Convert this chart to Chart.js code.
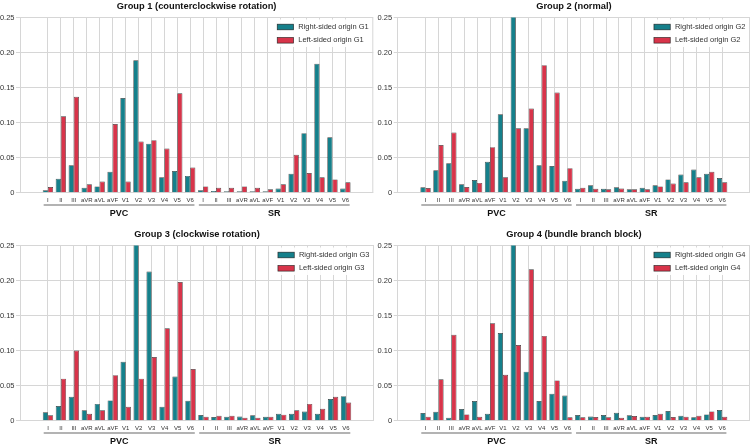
<!DOCTYPE html>
<html>
<head>
<meta charset="utf-8">
<title>Lead contributions by group</title>
<script src="https://cdn.jsdelivr.net/npm/chart.js@4.4.1/dist/chart.umd.min.js"></script>
<style>
  html, body { margin: 0; padding: 0; background: #fff; }
  #wrap { position: relative; width: 751px; height: 447px; overflow: hidden; }
  canvas { position: absolute; }
</style>
</head>
<body>
<div id="wrap">
  <canvas id="g1" width="375" height="224" style="left:0;top:0"></canvas>
  <canvas id="g2" width="376" height="224" style="left:375px;top:0"></canvas>
  <canvas id="g3" width="375" height="224" style="left:0;top:228px"></canvas>
  <canvas id="g4" width="376" height="224" style="left:375px;top:228px"></canvas>
</div>
<script>
// leads, repeated for the PVC beat and the sinus rhythm (SR) beat
const leads = ['I', 'II', 'III', 'aVR', 'aVL', 'aVF', 'V1', 'V2', 'V3', 'V4', 'V5', 'V6'];
const groupNames = ['PVC', 'SR'];
const categories = groupNames.flatMap(() => leads);
const yTicks = [0, 0.05, 0.10, 0.15, 0.20, 0.25];

const titles = [
  'Group 1 (counterclockwise rotation)',
  'Group 2 (normal)',
  'Group 3 (clockwise rotation)',
  'Group 4 (bundle branch block)'
];

// values (PVC leads first, then SR leads)
const g1Right = [0.0035, 0.020, 0.039, 0.007, 0.009, 0.030, 0.135, 0.189, 0.070, 0.022, 0.031, 0.024,
                 0.0035, 0.0025, 0.002, 0.002, 0.002, 0.002, 0.006, 0.027, 0.085, 0.184, 0.079, 0.006];
const g1Left  = [0.008, 0.109, 0.137, 0.012, 0.016, 0.098, 0.016, 0.073, 0.075, 0.063, 0.142, 0.036,
                 0.009, 0.007, 0.007, 0.009, 0.007, 0.005, 0.012, 0.054, 0.028, 0.022, 0.019, 0.015];

const g2Right = [0.0076, 0.032, 0.042, 0.012, 0.018, 0.044, 0.112, 0.300, 0.092, 0.039, 0.038, 0.017,
                 0.0057, 0.0105, 0.0057, 0.0076, 0.005, 0.007, 0.0105, 0.019, 0.026, 0.033, 0.027, 0.021];
const g2Left  = [0.0067, 0.068, 0.086, 0.008, 0.014, 0.065, 0.022, 0.092, 0.120, 0.182, 0.143, 0.035,
                 0.007, 0.0057, 0.005, 0.006, 0.005, 0.005, 0.009, 0.013, 0.015, 0.022, 0.030, 0.015];

const g3Right = [0.012, 0.021, 0.034, 0.015, 0.024, 0.029, 0.084, 0.300, 0.213, 0.020, 0.063, 0.0285,
                 0.008, 0.0052, 0.0057, 0.006, 0.0076, 0.0057, 0.010, 0.010, 0.013, 0.010, 0.031, 0.035];
const g3Left  = [0.0076, 0.060, 0.100, 0.010, 0.015, 0.065, 0.020, 0.060, 0.091, 0.132, 0.198, 0.0737,
                 0.0057, 0.0071, 0.0071, 0.0043, 0.0043, 0.0057, 0.0086, 0.015, 0.024, 0.017, 0.034, 0.026];

const g4Right = [0.011, 0.0128, 0.0043, 0.0166, 0.028, 0.010, 0.125, 0.300, 0.070, 0.028, 0.0385, 0.036,
                 0.008, 0.006, 0.008, 0.0114, 0.0076, 0.0057, 0.008, 0.0138, 0.0071, 0.0048, 0.009, 0.0152];
const g4Left  = [0.0057, 0.059, 0.1226, 0.009, 0.0057, 0.139, 0.0656, 0.108, 0.216, 0.121, 0.0575, 0.0048,
                 0.0048, 0.0052, 0.0048, 0.0043, 0.0067, 0.0057, 0.010, 0.0052, 0.0057, 0.0071, 0.0133, 0.0057];

const rightSeries = [g1Right, g2Right, g3Right, g4Right];
const leftSeries = [g1Left, g2Left, g3Left, g4Left];

const TEAL = '#15808b';
const RED = '#d8344a';
const EDGE = 'rgba(25,25,25,0.85)';
const GRID = '#d6d6d6';
const TEXT = '#333';
const FONT = '"Liberation Sans", Arial, Helvetica, sans-serif';

// titles, legend, group brackets and the right frame line
const decor = {
  id: 'decor',
  beforeDatasetsDraw(chart) {
    const {ctx, chartArea: a} = chart;
    ctx.save();
    ctx.strokeStyle = GRID;
    ctx.lineWidth = 1;
    ctx.beginPath();
    ctx.moveTo(a.right - 0.5, a.top);
    ctx.lineTo(a.right - 0.5, a.bottom);
    ctx.stroke();
    ctx.restore();
  },
  afterDatasetsDraw(chart) {
    const {ctx, chartArea: a} = chart;
    const sets = chart.data.datasets;
    ctx.save();
    ctx.font = '7.5px ' + FONT;
    const textW = Math.max(...sets.map(d => ctx.measureText(d.label).width));
    const patchX = a.right - 4.6 - textW - 4.7 - 16.3;
    ctx.fillStyle = 'rgba(255,255,255,0.92)';
    ctx.fillRect(patchX - 4.5, a.top + 2, a.right - 1.5 - (patchX - 4.5), 27.5);
    sets.forEach((d, i) => {
      const cy = a.top + 9.5 + i * 13.3;
      ctx.fillStyle = d.backgroundColor;
      ctx.fillRect(patchX, cy - 2.8, 16.3, 5.6);
      ctx.strokeStyle = EDGE;
      ctx.lineWidth = 0.7;
      ctx.strokeRect(patchX, cy - 2.8, 16.3, 5.6);
      ctx.fillStyle = TEXT;
      ctx.textAlign = 'left';
      ctx.textBaseline = 'middle';
      ctx.fillText(d.label, patchX + 16.3 + 4.7, cy);
    });
    ctx.restore();
  },
  afterDraw(chart, args, opts) {
    const {ctx, chartArea: a, scales: {x}} = chart;
    ctx.save();
    ctx.fillStyle = '#111';
    ctx.textAlign = 'center';
    ctx.textBaseline = 'middle';
    ctx.font = 'bold 9.3px ' + FONT;
    ctx.fillText(opts.title, (a.left + a.right) / 2, opts.titleY);

    groupNames.forEach((name, g) => {
      const from = g * leads.length;
      const to = from + leads.length - 1;
      const x0 = x.getPixelForValue(from - 0.33);
      const x1 = x.getPixelForValue(to + 0.33);
      ctx.strokeStyle = '#9a9a9a';
      ctx.lineWidth = 1.6;
      ctx.beginPath();
      ctx.moveTo(x0, a.bottom + 12.3);
      ctx.lineTo(x1, a.bottom + 12.3);
      ctx.stroke();
      ctx.fillStyle = '#111';
      ctx.font = 'bold 9px ' + FONT;
      ctx.fillText(name, (x0 + x1) / 2, a.bottom + 20.5);
    });
    ctx.restore();
  }
};

function makeChart(idx, axisWidth, padRight) {
  const n = idx + 1;
  const toPoints = arr => arr.map((v, i) => ({x: i, y: v}));
  new Chart(document.getElementById('g' + n), {
    type: 'bar',
    data: {
      datasets: [
        {
          label: 'Right-sided origin G' + n,
          data: toPoints(rightSeries[idx]),
          backgroundColor: TEAL,
          borderColor: EDGE,
          borderWidth: 0.7
        },
        {
          label: 'Left-sided origin G' + n,
          data: toPoints(leftSeries[idx]),
          backgroundColor: RED,
          borderColor: EDGE,
          borderWidth: 0.7
        }
      ]
    },
    options: {
      responsive: false,
      animation: false,
      devicePixelRatio: 1,
      clip: 0,
      datasets: {bar: {categoryPercentage: 0.8, barPercentage: 1, clip: 0}},
      layout: {padding: {left: 0, right: padRight, top: 17.5, bottom: 19.3}},
      plugins: {
        legend: {display: false},
        tooltip: {enabled: false},
        decor: {title: titles[idx], titleY: 6}
      },
      scales: {
        x: {
          type: 'linear',
          min: -1.59,
          max: categories.length - 1 + 1.59,
          afterBuildTicks: s => { s.ticks = categories.map((_, i) => ({value: i})); },
          afterFit: s => { s.height = 12; },
          grid: {color: GRID, lineWidth: 1, drawTicks: false, offset: false},
          border: {display: false},
          ticks: {
            autoSkip: false,
            maxRotation: 0,
            padding: 4,
            color: TEXT,
            font: {family: FONT, size: 6},
            callback: v => categories[v]
          }
        },
        y: {
          min: 0,
          max: 0.25,
          afterBuildTicks: s => { s.ticks = yTicks.map(v => ({value: v})); },
          afterFit: s => { s.width = axisWidth; },
          grid: {color: GRID, lineWidth: 1, tickLength: 4},
          border: {display: true, color: GRID},
          ticks: {
            padding: 1.5,
            color: TEXT,
            font: {family: FONT, size: 7.5},
            callback: v => (v === 0 ? '0' : v.toFixed(2))
          }
        }
      }
    },
    plugins: [decor]
  });
}

makeChart(0, 20, 1.7);
makeChart(1, 22.7, 1);
makeChart(2, 20, 1);
makeChart(3, 22.7, 1);
</script>
</body>
</html>
